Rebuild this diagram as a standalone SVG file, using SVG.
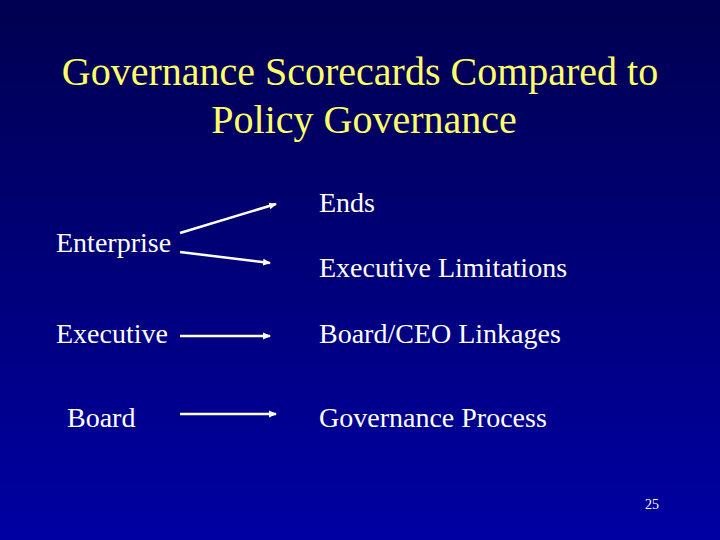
<svg xmlns="http://www.w3.org/2000/svg" width="720" height="540" viewBox="0 0 720 540">
<defs>
<linearGradient id="bg" x1="0" y1="0" x2="0" y2="1">
<stop offset="0" stop-color="#000050"/>
<stop offset="1" stop-color="#0000a2"/>
</linearGradient>
<marker id="ah" markerWidth="10" markerHeight="10" refX="7" refY="5" orient="auto" markerUnits="userSpaceOnUse">
<path d="M0,1.5 L8,5 L0,8.5 Z" fill="#ffffff"/>
</marker>
<style>
.t{font-family:"Liberation Serif","Times New Roman",serif;fill:#ffff66;font-size:40px;text-anchor:middle}
.b{font-family:"Liberation Serif","Times New Roman",serif;fill:#ffffff;font-size:28px}
.n{font-family:"Liberation Serif","Times New Roman",serif;fill:#ffffff;font-size:14px}
.c{stroke:#ffffff;stroke-width:2.5;fill:none;marker-end:url(#ah)}
</style>
</defs>
<rect width="720" height="540" fill="url(#bg)"/>
<g id="title">
<text class="t" x="360" y="85">Governance Scorecards Compared to</text>
<text class="t" x="364" y="133">Policy Governance</text>
</g>
<g id="enterprise"><text class="b" x="56" y="252">Enterprise</text></g>
<g id="executive"><text class="b" x="56" y="343">Executive</text></g>
<g id="board"><text class="b" x="67" y="427">Board</text></g>
<g id="ends"><text class="b" x="319" y="212">Ends</text></g>
<g id="exec-limitations"><text class="b" x="319" y="277">Executive Limitations</text></g>
<g id="linkages"><text class="b" x="319" y="343">Board/CEO Linkages</text></g>
<g id="gov-process"><text class="b" x="319" y="427">Governance Process</text></g>
<g id="connectors">
<line class="c" x1="180" y1="233" x2="276" y2="204"/>
<line class="c" x1="180" y1="252" x2="270" y2="263"/>
<line class="c" x1="180" y1="336" x2="270" y2="336"/>
<line class="c" x1="180" y1="414" x2="276" y2="414"/>
</g>
<g id="page"><text class="n" x="645" y="509">25</text></g>
</svg>
